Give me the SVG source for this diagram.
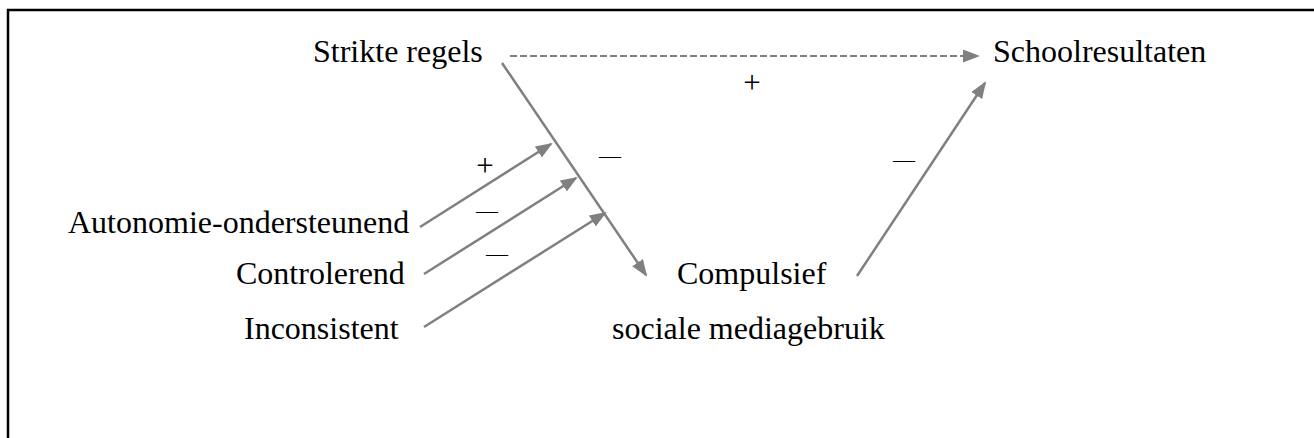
<svg xmlns="http://www.w3.org/2000/svg" width="1314" height="438" viewBox="0 0 1314 438">
<defs>
<style>
.t{font-family:"Liberation Serif","Times New Roman",serif;font-size:32px;fill:#000}
.s{font-family:"Liberation Serif","Times New Roman",serif;font-size:22px;fill:#000;text-anchor:middle}
.p{font-family:"Liberation Serif","Times New Roman",serif;font-size:31px;fill:#000;text-anchor:middle}
.c{stroke:#808080;stroke-width:2.5;fill:none}
.d{stroke:#808080;stroke-width:2;fill:none;stroke-dasharray:7 3}
</style>
<marker id="ah" viewBox="0 0 17 13" markerWidth="17" markerHeight="13" refX="15" refY="6.5" orient="auto" markerUnits="userSpaceOnUse">
<path d="M0,0 L17,6.5 L0,13 Z" fill="#808080"/>
</marker>
</defs>
<rect x="0" y="0" width="1314" height="438" fill="#fff"/>
<path d="M8,440 V10 H1316" fill="none" stroke="#000" stroke-width="2.5"/>
<g id="n-strikte"><text class="t" x="313" y="62">Strikte regels</text></g>
<g id="n-school"><text class="t" x="993" y="62">Schoolresultaten</text></g>
<g id="n-auto"><text class="t" x="68" y="233">Autonomie-ondersteunend</text></g>
<g id="n-contr"><text class="t" x="236" y="284">Controlerend</text></g>
<g id="n-incons"><text class="t" x="244" y="339">Inconsistent</text></g>
<g id="n-comp"><text class="t" x="677" y="284">Compulsief</text><text class="t" x="612" y="339">sociale mediagebruik</text></g>
<g id="connectors">
<line class="d" x1="510" y1="56" x2="978" y2="56" marker-end="url(#ah)"/>
<line class="c" x1="502" y1="63" x2="646" y2="275" marker-end="url(#ah)"/>
<line class="c" x1="420" y1="227" x2="551" y2="144" marker-end="url(#ah)"/>
<line class="c" x1="424" y1="274" x2="576" y2="178" marker-end="url(#ah)"/>
<line class="c" x1="424" y1="327" x2="605" y2="213" marker-end="url(#ah)"/>
<line class="c" x1="857" y1="276" x2="985" y2="83" marker-end="url(#ah)"/>
<text class="p" x="752" y="93">+</text>
<text class="p" x="485" y="176">+</text>
<text class="s" x="610" y="163">—</text>
<text class="s" x="487" y="218">—</text>
<text class="s" x="497" y="261">—</text>
<text class="s" x="904" y="167">—</text>
</g>
</svg>
